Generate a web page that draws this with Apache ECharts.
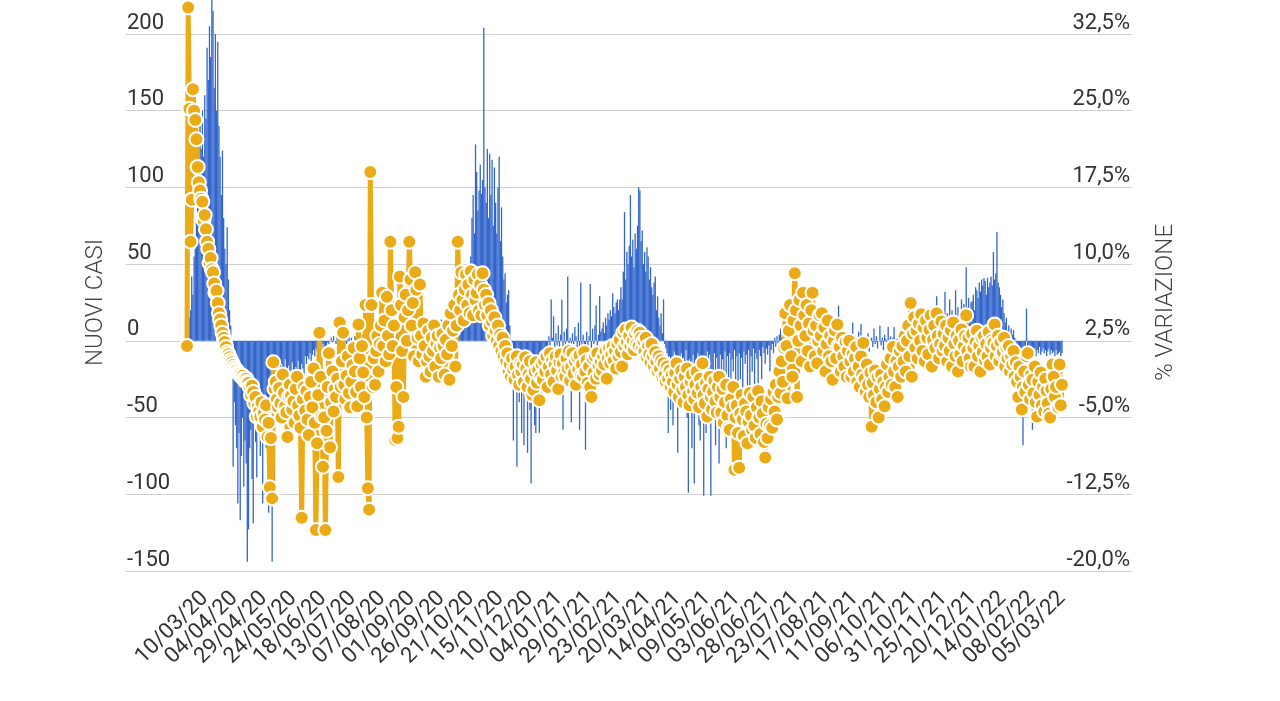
<!DOCTYPE html>
<html><head><meta charset="utf-8">
<script src="https://cdn.jsdelivr.net/npm/echarts@6/dist/echarts.min.js"></script>
<style>html,body{margin:0;padding:0;background:#fff}#c{width:1280px;height:701px}</style>
</head><body><div id="c"></div>
<script>
// Daily series starting 24/02/2020
const startDate = [2020, 2, 24];
const tickLabels = ['10/03/20','04/04/20','29/04/20','24/05/20','18/06/20','13/07/20','07/08/20','01/09/20','26/09/20','21/10/20','15/11/20','10/12/20','04/01/21','29/01/21','23/02/21','20/03/21','14/04/21','09/05/21','03/06/21','28/06/21','23/07/21','17/08/21','11/09/21','06/10/21','31/10/21','25/11/21','20/12/21','14/01/22','08/02/22','05/03/22'];
const leftTicks = [-150, -100, -50, 0, 50, 100, 150, 200];
const rightTicks = [-20, -12.5, -5, 2.5, 10, 17.5, 25, 32.5];

// NUOVI CASI (bars, left axis)
const barsSpring20 = [
0,8,15,20,42,30,55,60,80,95,110,140,125,150,120,160,145,191,170,205,
185,225,215,165,200,150,195,140,120,95,124,80,60,50,74,40,20,10,-5,-82,-40,
-55,-70,-106,-60,-117,-75,-50,-95,-65,-80,-144,-123,-70,-58,-90,-119,-45,-66,-89,-52,
-40,-75,-60,-106,-48,-35,-70,-55,-112,-42,-60,-144,-38,-100,-30,
-25,-18,-30,-22,-15,-28,-20,-12,-35,-24,-16,-26,-19,-14,-30,-21,-17,-25,-13,-20,-27,-15,-18,-22,-10,
-15,-10,-12,-8,-14,-9,-6,-10,-5,-7,-4,-8,-3,-6,-2,-5,-4,-3,-1,-2,0];
const barsSummer20 = [
2,-1,3,0,-2,4,1,-3,2,5,-1,0,3,-2,1,4,-1,2,0,-3,
3,1,-2,5,0,2,-1,4,-2,1,3,0,-1,6,2,-3,1,4,0,2,
-1,3,5,1,-2,4,2,0,6,-1,3,1,5,-2,2,4,0,7,1,3,
-1,5,2,6,0,4,8,1,3,7,2,5,-1,6,4,9,2,5,7,3,
8,4,10,6,2,9,5,11,7,3,12,8,6,14,9,5,12,10,15,7,13,
8,12,10,15,18,14,20,24,22,28,30,26,35,40,38,45,50,55];
const barsWinter20 = [
80,95,70,128,110,85,98,115,96,105,204,100,90,125,80,122,95,118,75,113,
90,70,100,120,65,87,55,40,44,25,30,33,10,-5,-8,
-65,-12,-30,-82,-15,-40,-10,-60,-25,-68,-12,-35,-73,-20,-45,-93,-15,-30,-55,-60,
-10,-25,-60,-8,-20,-35,-6,-12,-5,-15,
3,-5,27,2,16,-8,5,-3,10,-12,4,27,-58,6,-4,8,42,-10,2,-53,
5,-2,9,3,-6,12,-58,38,-15,4,-8,-71,6,-20,3,37,-5,8,-2,10,23,-10,4,29,6];
const barsSpring21 = [
8,12,5,15,10,18,14,20,16,31,22,18,25,27,20,27,35,27,45,84,
40,58,50,62,95,55,66,48,70,60,75,100,98,65,72,50,58,45,61,55,
40,48,35,30,38,42,20,29,15,10,18,5,27,-2,-5,
-8,-60,-10,-45,-12,-55,-7,-9,-40,-73,-10,-30,-8,-43,-11,-25,-6,-50,-99,-12,
-35,-70,-9,-93,-15,-40,-8,-55,-65,-10,-30,-101,-12,-60,-7,-45,-9,-101,-20,-50,
-8,-68,-11,-35,-80,-9,-25,-12,-45,-7,-70,-10,-30,-8,-55,-12,-20,-6,-40,-10,
-60,-8,-25,-11,-50,-7,-15,-9,-35,-6,-60,-10,-20,-5,-30,-8,-12,-45,-6,-10,
-25,-4,-8,-15,-5,-9,-3,-20,-6,-2,-8,2,-4,3,-2];
const barsSummer21 = [
4,8,2,10,6,12,3,9,15,5,11,7,14,4,9,13,6,10,3,12,
8,5,11,2,7,10,4,8,1,6,9,3,-2,5,7,0,4,-3,6,2,
-1,5,3,-4,8,1,-2,4,0,6,23,-3,2,-5,4,1,-2,3,-6,2,
-3,4,12,-2,3,-5,1,6,-4,11,2,-6,0,3,-3,5,-7,1,2,-4,
8,-2,3,-5,0,10,-3,2,-6,4,1,-4,9,-2,3,-5,2,9,-3,1];
const barsWinter21 = [
2,-3,5,0,8,-2,4,10,1,6,-3,12,3,8,15,2,10,5,18,4,
9,14,3,11,20,6,12,8,22,5,14,10,18,29,8,15,12,20,9,16,
32,10,18,14,27,12,20,16,8,33,15,22,18,12,27,20,24,15,48,22,
28,18,25,26,30,20,35,33,28,38,32,40,36,41,39,30,41,35,38,42,
36,58,40,44,71,38,35,30,22,27,18,12,15,7,10,5,8,4,7,2,
-4,-6,-3,-8,-5,-7,-68,-6,-4,21,-8,-5,-9,-6,-58,-7,-5,-10,-6,-8,
-4,-9,-7,-5,-8,-6,-10,-7,-5,-9,-6,-8,-7,-10,-6,-9,-8,-7,-10,-8];

// % VARIAZIONE (line, right axis)
const pctSpring20 = [
2.0,35.1,25.2,12.2,16.3,27.1,25.0,24.1,22.2,19.5,18.0,17.2,16.4,16.1,14.3,14.8,13.4,12.2,11.5,10.1,
10.6,9.5,9.2,8.1,7.2,7.4,6.2,5.2,4.6,4.0,3.3,2.8,2.4,1.9,1.4,1.2,0.9,0.6,0.4,0.15,
-0.1,-0.3,-0.4,-0.6,-0.7,-0.8,-1.0,-0.9,-1.2,-1.4,-1.2,-1.5,-1.6,
-2.0,-2.8,-1.9,-2.5,-3.6,-3.0,-4.9,-3.9,-4.4,-4.9,-3.5,-5.9,-4.6,-5.2,-3.8,-6.9,-5.5,-11.8,-7.0,-12.9,0.4,-2.2,
-1.5,-3.2,-4.0,-2.1,-3.6,-5.0,-0.8,-2.6,-3.9,-4.5,-6.9,-3.0,-1.8,-2.9,-4.2,-3.4,-5.5,-2.2,-1.0,-3.8,-4.8,-6.0,-14.8,-3.2,-2.0,-4.3,
-2.4,-5.2,-6.7,-3.0,-1.5,-4.0,-0.2,-5.5,-16.0,-7.5,-2.8,3.3,-1.0,-4.9,-9.8,-5.0,-16.0,-6.3,-2.0,1.3,-7.9,-3.5,-0.5,-4.4,-2.2];
const pctSummer20 = [
-3.0,-1.2,-10.8,4.3,-2.0,0.5,3.3,-1.8,-3.2,-0.9,1.0,-2.6,-4.0,-1.5,0.15,1.8,-0.5,-2.5,-3.9,4.1,0.8,-2.0,2.0,-0.6,-3.0,
6.0,-5.0,-11.9,-14.0,19.0,6.0,-2.0,0.8,-1.8,1.5,3.0,-0.5,2.2,4.0,7.2,
2.0,4.5,0.5,6.8,3.0,1.2,12.2,5.5,2.0,4.0,-7.2,-2.0,-7.0,-5.9,8.8,6.0,1.5,-3.0,4.8,7.0,
2.5,5.5,12.2,8.5,4.0,6.2,1.0,9.2,7.5,2.8,0.5,8.0,3.0,1.2,4.2,
2.0,-1.0,0.5,3.5,1.0,-0.5,2.8,1.5,4.0,0.0,2.2,3.0,-1.0,1.8,0.8,3.2,2.0,-0.8,2.6,1.2,4.0,-1.3];
const pctWinter20 = [
5.2,2.0,3.5,6.0,0.0,4.0,12.2,7.0,5.5,9.2,6.5,4.5,7.5,9.0,6.0,8.0,5.2,9.3,7.0,5.0,8.5,6.5,7.2,9.0,5.5,8.0,5.0,9.1,
7.5,6.0,7.0,5.0,6.2,4.0,5.5,4.4,3.0,4.8,3.5,2.5,4.0,2.0,3.1,1.5,2.8,1.0,2.0,0.5,
1.3,-0.5,0.2,-1.0,0.8,-0.3,-1.3,0.0,1.0,-0.8,-1.8,0.3,-0.5,0.2,-1.5,0.9,-0.2,-2.0,-0.8,0.5,-1.2,-2.8,-2.3,-0.5,0.4,-1.6,-0.3,-3.3,-1.0,0.2,
-1.3,0.5,-0.5,1.0,-2.0,0.0,1.3,-0.8,0.6,-1.5,0.2,1.0,-0.4,-2.2,0.4,1.2,-1.0,0.3,-0.6,-1.0,
0.8,-0.2,1.5,-1.4,0.0,1.3,-0.7,0.5,-1.8,0.9,-0.3,1.1,-0.9,0.2,-1.0,1.4,-0.5,0.6,-1.6,0.0,
-2.0,-3.0,0.8,-0.6,1.0,-1.2,1.3,0.1,-0.8,0.5];
const pctSpring21 = [
-0.4,1.0,0.2,1.5,-1.2,0.8,1.8,0.3,1.2,2.0,0.6,1.5,-0.2,2.2,1.0,2.6,1.4,0.0,3.3,2.0,
3.6,2.4,1.2,3.0,2.0,3.8,2.5,1.6,3.2,2.2,3.5,2.0,3.3,2.8,1.8,
2.5,1.5,2.8,0.9,2.0,1.2,0.4,2.2,1.0,0.0,1.4,0.5,-0.5,1.0,-0.2,0.6,-1.0,0.3,-0.8,-1.5,0.0,-1.2,-0.4,-2.0,-0.8,
-1.5,-2.5,-0.6,0.3,-1.8,-3.0,-1.2,-0.4,-2.3,-3.5,-1.0,-2.0,-0.2,-2.8,-3.8,-1.5,-0.8,-2.4,-3.2,-1.8,
-0.5,-2.6,-4.0,-1.2,-2.0,0.3,-2.8,-3.6,-1.6,-4.9,-2.2,-1.0,-3.0,-4.2,-2.5,-1.4,-3.4,-4.5,-2.0,-1.0,
-3.0,-4.5,-2.2,-5.5,-3.5,-1.8,-4.8,-6.0,-6.2,-3.2,-4.0,-2.0,-10.1,-5.0,-3.8,-6.5,-9.9,-4.6,-2.8,-5.2,
-6.8,-3.6,-4.4,-7.5,-5.4,-2.6,-4.8,-6.2,-3.0,-5.8,-7.0,-4.0,-2.4,-5.0,-6.6,-3.4,-4.6,-7.4,-8.9,-5.6,
-7.0,-4.0,-5.8,-3.2,-6.0,-2.5,-4.4,-1.8,-5.2,-3.0,-0.5,-2.6,0.5,-1.5,1.8];
const pctSummer21 = [
5.2,2.0,-3.1,3.5,6.0,1.0,-1.0,4.5,9.1,5.5,-3.0,2.5,6.5,4.0,0.5,7.2,5.0,3.0,6.0,1.5,4.2,0.0,5.5,7.2,3.5,
1.0,4.0,0.3,2.5,5.0,3.0,5.2,1.5,3.8,-0.5,2.2,4.5,1.0,3.0,0.5,-1.3,2.5,3.5,0.8,4.1,2.0,1.9,-0.5,2.8,1.0,0.0,2.4,-1.0,1.5,2.5,
0.5,-1.0,1.2,-0.5,0.8,1.9,-1.5,0.0,-2.0,1.0,-0.8,2.3,-1.2,-2.5,0.2,-1.8,-3.0,-0.6,-5.9,-1.6,
-2.8,-0.4,-3.5,-1.0,-5.0,-2.2,-0.8,-3.2,-1.5,-3.9,-2.0,0.2,-2.5,-1.0,0.8,-1.8,1.9,-0.5,-2.0,0.5];
const pctWinter21 = [
-3.0,0.0,1.5,-1.0,2.0,0.5,3.0,-0.5,2.5,4.0,1.0,6.2,-1.0,3.2,4.8,1.8,3.5,0.8,4.2,2.5,
5.1,1.5,3.8,0.5,4.5,2.8,1.2,3.6,5.0,0.0,2.6,4.0,1.8,5.2,3.0,0.8,2.2,4.4,1.5,3.2,
2.0,4.0,0.5,2.8,1.5,3.5,0.0,4.3,2.2,1.0,3.0,-0.5,2.5,1.2,3.6,0.5,2.0,3.0,5.0,1.5,
2.8,0.8,0.0,3.2,1.8,0.0,2.4,3.5,1.0,2.0,-0.5,2.8,1.4,3.0,0.6,2.2,1.0,3.4,0.2,1.8,
2.6,2.3,4.1,1.0,2.0,3.0,0.5,2.4,1.2,1.4,2.8,0.0,1.8,0.8,2.0,-0.5,1.0,0.2,1.5,-1.0,
0.4,-1.5,-3.0,0.0,-1.0,-4.2,-2.0,-0.5,-2.5,1.0,1.3,-1.8,-3.2,-0.8,-1.3,-2.6,0.0,-3.5,-4.9,-1.5,
-2.8,-0.6,-3.8,-2.0,-4.4,-1.2,-2.4,-3.6,-4.6,-5.0,-2.2,0.2,-1.0,-3.0,-2.0,-4.0,-4.0,0.2,-3.8,-1.8];

const bars = [].concat(barsSpring20, barsSummer20, barsWinter20, barsSpring21, barsSummer21, barsWinter21);
const pct = [].concat(pctSpring20, pctSummer20, pctWinter20, pctSpring21, pctSummer21, pctWinter21);

const pad = n => (n < 10 ? '0' : '') + n;
const t0 = Date.UTC(startDate[0], startDate[1] - 1, startDate[2]);
const dates = bars.map((_, i) => {
  const d = new Date(t0 + i * 86400000);
  return pad(d.getUTCDate()) + '/' + pad(d.getUTCMonth() + 1) + '/' + String(d.getUTCFullYear()).slice(2);
});
const tickIdx = tickLabels.map(l => dates.indexOf(l));

const X_MIN = -51.6, X_MAX = 799.2;
// empty sentinel labels at the axis ends so that the real first/last date labels are not dropped
const xLabelValues = [X_MIN + 0.5].concat(tickIdx, [X_MAX - 0.5]);

const YEL = '#ebab17', BLUE = '#3366cc', TXT = '#333', FONT = 'Roboto';
const chart = echarts.init(document.getElementById('c'), null, {renderer: 'canvas'});
chart.setOption({
  animation: false,
  backgroundColor: '#fff',
  grid: {left: 126, right: 148, top: 34, bottom: 130},
  xAxis: {
    type: 'value', min: X_MIN, max: X_MAX,
    axisLine: {show: false}, axisTick: {show: false}, splitLine: {show: false},
    axisLabel: {customValues: xLabelValues, formatter: v => (Number.isInteger(v) && dates[v]) ? dates[v] : '',
      rotate: 45, fontSize: 22, color: TXT, fontFamily: FONT, margin: 24,
      showMinLabel: false, showMaxLabel: false, hideOverlap: false}
  },
  yAxis: [{
    type: 'value', min: leftTicks[0], max: leftTicks[leftTicks.length - 1], interval: 50, position: 'left',
    name: 'NUOVI CASI', nameLocation: 'middle', nameRotate: 90, nameGap: 18,
    nameTextStyle: {fontSize: 24, color: '#444', fontFamily: FONT, fontWeight: 300},
    axisLine: {show: false}, axisTick: {show: false},
    splitLine: {lineStyle: {color: '#cfcfcf', width: 1}},
    axisLabel: {inside: true, margin: 1, fontSize: 22, color: TXT, fontFamily: FONT, verticalAlign: 'bottom', padding: [0, 0, 0, 0]}
  }, {
    type: 'value', min: rightTicks[0], max: rightTicks[rightTicks.length - 1], position: 'right',
    name: '% VARIAZIONE', nameLocation: 'middle', nameRotate: 90, nameGap: 22,
    nameTextStyle: {fontSize: 24, color: '#444', fontFamily: FONT, fontWeight: 300},
    axisLine: {show: false}, axisTick: {show: false}, splitLine: {show: false},
    axisLabel: {inside: true, customValues: rightTicks, margin: 2, fontSize: 22, color: TXT, fontFamily: FONT, verticalAlign: 'bottom', padding: [0, 0, 0, 0],
      formatter: v => v.toFixed(1).replace('.', ',') + '%'}
  }],
  series: [{
    type: 'bar', yAxisIndex: 0, data: bars.map((v, i) => [i, v]), barWidth: 1.3, clip: false,
    itemStyle: {color: BLUE}, z: 2
  }, {
    type: 'line', yAxisIndex: 1, data: pct.map((v, i) => [i, v]), clip: false,
    symbol: 'circle', symbolSize: 14, showSymbol: true, showAllSymbol: true,
    lineStyle: {width: 5, color: YEL},
    itemStyle: {color: YEL, borderColor: '#fff', borderWidth: 2}, z: 3
  }]
});
</script></body></html>
